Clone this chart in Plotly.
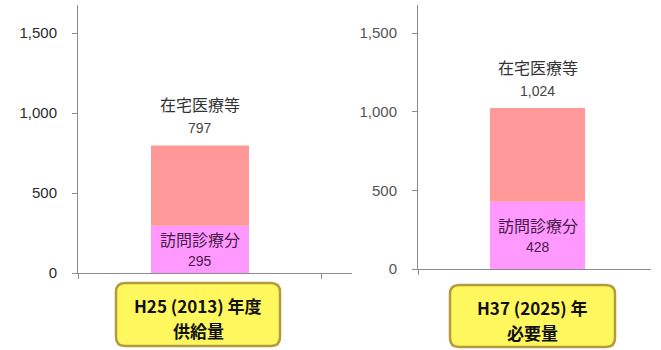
import plotly.graph_objects as go

W, H = 661, 350

# ---- data ----
categories = ["H25 (2013) 年度", "H37 (2025) 年"]
subtitles = ["供給量", "必要量"]
home_care_total = [797, 1024]      # 在宅医療等 (total)
home_visit = [295, 428]            # 訪問診療分
series_names = ["訪問診療分", "在宅医療等"]
y_ticks = [0, 500, 1000, 1500]
y_tick_text = ["0", "500", "1,000", "1,500"]

remaining = [t - v for t, v in zip(home_care_total, home_visit)]

def px(x):
    return x / W

def py(y):
    return 1 - y / H

C_TOP = "#FF9999"
C_BOT = "#FF99FF"

fig = go.Figure()

# panel geometry (pixels)
panels = [
    dict(xd=(78, 352), yd=(273, 5), xr=(-0.5, 0.623), yr=(0, 1675), bw=0.4016,
         xticks=[-0.5, 0.5], tickcol="#2b2b2b", box=(116, 283, 280, 346)),
    dict(xd=(418, 651), yd=(269, 5), xr=(-0.513, 0.487), yr=(0, 1678), bw=0.408,
         xticks=[-0.513], tickcol="#555555", box=(450, 285, 615, 347)),
]

for i, p in enumerate(panels):
    xa = "x" if i == 0 else "x2"
    ya = "y" if i == 0 else "y2"
    fig.add_trace(go.Bar(x=[0], y=[home_visit[i]], width=p["bw"], marker_color=C_BOT,
                         marker_line_width=0, name=series_names[0], xaxis=xa, yaxis=ya,
                         showlegend=False, hoverinfo="skip"))
    fig.add_trace(go.Bar(x=[0], y=[remaining[i]], base=[home_visit[i]], width=p["bw"],
                         marker_color=C_TOP, marker_line_width=0, name=series_names[1],
                         xaxis=xa, yaxis=ya, showlegend=False, hoverinfo="skip"))

    xkey = "xaxis" if i == 0 else "xaxis2"
    ykey = "yaxis" if i == 0 else "yaxis2"
    fig.update_layout(**{
        xkey: dict(domain=[px(p["xd"][0]), px(p["xd"][1])], range=list(p["xr"]),
                   anchor=ya, showline=True, linecolor="#8c8c8c", linewidth=1,
                   showgrid=False, zeroline=False, tickmode="array",
                   tickvals=p["xticks"], ticks="outside", ticklen=5,
                   tickcolor="#8c8c8c", showticklabels=False, fixedrange=True,
                   automargin=False),
        ykey: dict(domain=[py(p["yd"][0]), py(p["yd"][1])], range=list(p["yr"]),
                   anchor=xa, showline=True, linecolor="#8c8c8c", linewidth=1,
                   showgrid=False, zeroline=False, tickmode="array",
                   tickvals=y_ticks, ticktext=y_tick_text, ticks="outside",
                   ticklen=5, tickcolor="#8c8c8c", ticklabelstandoff=12,
                   tickfont=dict(family="Liberation Sans, Arial", size=15,
                                 color=p["tickcol"]), fixedrange=True,
                   automargin=False),
    })

    # labels above bar
    fig.add_annotation(x=0, y=home_care_total[i], xref=xa, yref=ya, yshift=41,
                       text=series_names[1], showarrow=False, yanchor="middle",
                       xanchor="center",
                       font=dict(family="Noto Sans CJK JP", size=16, color="#333333"))
    fig.add_annotation(x=0, y=home_care_total[i], xref=xa, yref=ya, yshift=17,
                       text=f"{home_care_total[i]:,}", showarrow=False, yanchor="middle",
                       xanchor="center",
                       font=dict(family="Liberation Sans, Arial", size=14, color="#444444"))
    # labels inside bottom segment
    fig.add_annotation(x=0, y=home_visit[i] / 2, xref=xa, yref=ya, yshift=10,
                       text=series_names[0], showarrow=False, yanchor="middle",
                       xanchor="center",
                       font=dict(family="Noto Sans CJK JP", size=16, color="#4a1a4a"))
    fig.add_annotation(x=0, y=home_visit[i] / 2, xref=xa, yref=ya, yshift=-12,
                       text=f"{home_visit[i]:,}", showarrow=False, yanchor="middle",
                       xanchor="center",
                       font=dict(family="Liberation Sans, Arial", size=14, color="#4a1a4a"))

    # yellow category box
    x0, y0, x1, y1 = p["box"]
    r = 9
    X0, X1 = px(x0), px(x1)
    Y0, Y1 = py(y0), py(y1)
    rx, ry = r / W, r / H
    path = (f"M {X0+rx},{Y0} L {X1-rx},{Y0} Q {X1},{Y0} {X1},{Y0-ry} "
            f"L {X1},{Y1+ry} Q {X1},{Y1} {X1-rx},{Y1} L {X0+rx},{Y1} "
            f"Q {X0},{Y1} {X0},{Y1+ry} L {X0},{Y0-ry} Q {X0},{Y0} {X0+rx},{Y0} Z")
    fig.add_shape(type="path", path=path, xref="paper", yref="paper",
                  fillcolor="#FFF75E", line=dict(color="#B49A3A", width=2.5))
    cx = px((x0 + x1) / 2)
    fig.add_annotation(x=cx, y=py(y0 + 22), xref="paper", yref="paper",
                       text=f"<b>{categories[i]}</b>", showarrow=False, yanchor="middle",
                       xanchor="center",
                       font=dict(family="Noto Sans CJK JP", size=17, color="#111111"))
    fig.add_annotation(x=cx, y=py(y0 + 47), xref="paper", yref="paper",
                       text=f"<b>{subtitles[i]}</b>", showarrow=False, yanchor="middle",
                       xanchor="center",
                       font=dict(family="Noto Sans CJK JP", size=17, color="#111111"))

fig.update_layout(width=W, height=H, margin=dict(l=0, r=0, t=0, b=0, autoexpand=False),
                  paper_bgcolor="white", plot_bgcolor="white", barmode="overlay",
                  showlegend=False)

fig.write_html("out.html", config={"displayModeBar": False})
